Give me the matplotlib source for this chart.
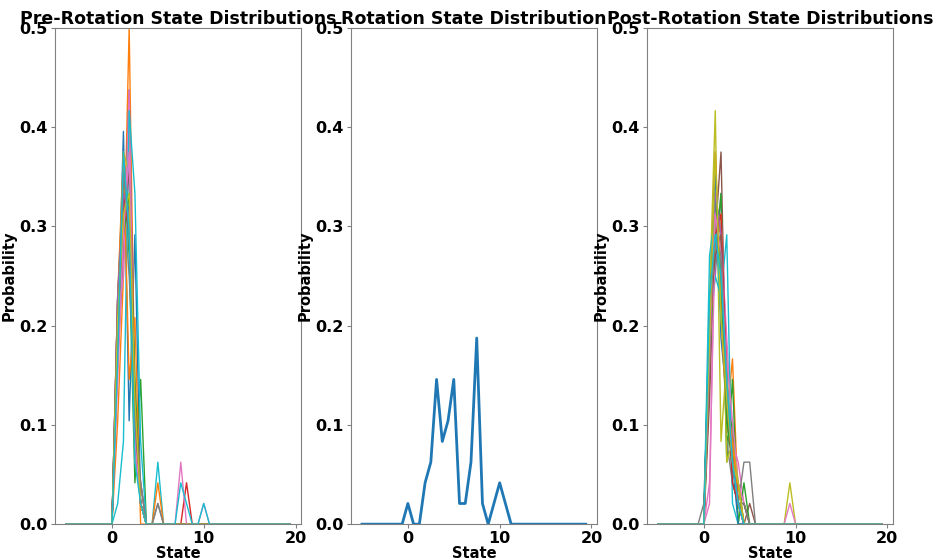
import numpy as np
import matplotlib
matplotlib.use("Agg")
import matplotlib.pyplot as plt

# state grid used for all three panels
states = np.arange(-5, 20, 0.625)
n_samples = 48
first_bin = 7  # counts below start at state -0.625

# pre-rotation: counts per state (out of 48), one list per run
pre_counts = [
    [0, 0, 9, 19, 5, 14, 1],
    [0, 0, 5, 12, 24, 6, 1],
    [0, 0, 9, 17, 13, 2, 7],
    [0, 0, 11, 15, 16, 4, 2],
    [0, 0, 10, 14, 17, 6, 1],
    [0, 0, 8, 13, 21, 5, 1],
    [0, 0, 10, 12, 21, 3, 2],
    [0, 0, 11, 16, 12, 6, 2, 0, 0, 1],
    [0, 0, 8, 18, 17, 4, 1],
    [0, 0, 1, 4, 20, 16, 4, 0, 0, 3],
    [0, 0, 11, 17, 15, 4, 1],
    [0, 0, 11, 18, 7, 10, 0, 0, 0, 2],
    [0, 0, 10, 14, 16, 7, 1],
    [0, 0, 9, 16, 14, 6, 1, 0, 0, 0, 0, 0, 0, 0, 2],
    [0, 0, 11, 16, 15, 5, 1],
    [0, 0, 10, 15, 17, 5, 1],
    [0, 0, 7, 14, 18, 4, 1, 0, 0, 0, 0, 0, 0, 3, 0, 0, 0, 1],
    [0, 0, 9, 17, 14, 5, 2, 0, 0, 1],
    [0, 0, 10, 15, 16, 6, 1],
    [0, 0, 8, 18, 14, 3, 1, 0, 0, 0, 0, 0, 0, 2, 1, 0, 0, 1],
]

# rotation run
rot_counts = [0, 1, 0, 0, 2, 3, 7, 4, 5, 7, 1, 1, 3, 9, 1, 0, 1, 2, 1]

# post-rotation runs
post_counts = [
    [0, 0, 10, 18, 9, 6, 3, 2],
    [0, 0, 8, 16, 10, 5, 8, 1],
    [0, 0, 9, 14, 15, 3, 7],
    [0, 0, 7, 15, 14, 7, 3, 2],
    [0, 0, 9, 12, 16, 7, 3, 1],
    [0, 0, 6, 14, 18, 5, 3, 1, 0, 1],
    [0, 0, 1, 16, 14, 9, 4, 3, 1],
    [0, 1, 9, 13, 12, 4, 2, 1, 3, 3],
    [0, 0, 11, 20, 4, 8, 2, 1, 0, 0, 0, 0, 0, 0, 0, 0, 2],
    [0, 0, 10, 12, 11, 14, 1],
    [0, 0, 10, 16, 12, 6, 3, 1],
    [0, 0, 9, 18, 11, 5, 3, 2],
    [0, 0, 8, 13, 16, 4, 5, 0, 2],
    [0, 0, 10, 15, 12, 6, 4, 1],
    [0, 0, 11, 13, 13, 6, 4, 1],
    [0, 0, 9, 15, 13, 5, 4, 1, 1],
    [0, 0, 2, 14, 15, 8, 5, 2, 1, 0, 0, 0, 0, 0, 0, 0, 1],
    [0, 0, 8, 16, 14, 6, 3, 1],
    [0, 0, 10, 14, 15, 3, 4, 2],
    [0, 0, 13, 15, 10, 7, 2, 1],
    [0, 0, 9, 17, 12, 7, 3],
    [0, 0, 8, 15, 14, 6, 4, 1],
    [0, 0, 10, 16, 12, 5, 3, 1, 1],
    [0, 0, 9, 14, 15, 7, 2, 1],
    [0, 0, 8, 16, 14, 6, 3, 1],
    [0, 0, 10, 13, 14, 6, 3, 1, 1],
    [0, 0, 9, 15, 13, 7, 3, 1],
    [0, 0, 10, 14, 13, 6, 3, 1, 1],
    [0, 0, 9, 18, 10, 6, 3, 2],
    [0, 0, 11, 14, 12, 7, 3, 1],
]

titles = ["Pre-Rotation State Distributions", "Rotation State Distribution",
          "Post-Rotation State Distributions"]


def to_prob(counts):
    p = np.zeros(len(states))
    p[first_bin:first_bin + len(counts)] = counts
    return p / n_samples


fig, axes = plt.subplots(1, 3, figsize=(9.33, 5.6), dpi=100)
fig.subplots_adjust(left=0.059, right=0.957, bottom=0.064, top=0.95, wspace=0.203)

for c in pre_counts:
    axes[0].plot(states, to_prob(c), lw=1)
axes[1].plot(states, to_prob(rot_counts), lw=2)
for c in post_counts:
    axes[2].plot(states, to_prob(c), lw=1)

for ax, t in zip(axes, titles):
    ax.set_ylim(0, 0.5)
    ax.set_xlim(-6.2, 20.6)
    ax.set_title(t, fontsize=12.5, fontweight="bold", pad=2)
    ax.set_xlabel("State", fontsize=10.5, fontweight="bold", labelpad=0)
    ax.set_ylabel("Probability", fontsize=10.5, fontweight="bold", labelpad=2)
    ax.set_xticks([0, 10, 20])
    ax.set_yticks([0, 0.1, 0.2, 0.3, 0.4, 0.5])
    ax.tick_params(colors="gray", labelcolor="black", labelsize=11.5,
                   length=3, pad=2)
    for lab in ax.get_xticklabels() + ax.get_yticklabels():
        lab.set_fontweight("bold")
    for s in ax.spines.values():
        s.set_color("gray")

fig.savefig("out.png", dpi=100)
